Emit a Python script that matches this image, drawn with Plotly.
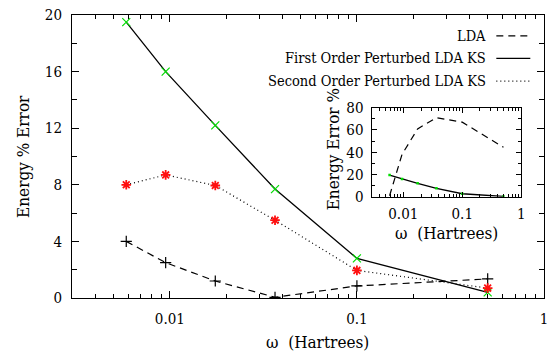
import numpy as np
import plotly.graph_objects as go

# Frequencies (Hartrees) and energy errors (%)
omega = [0.00585, 0.0095, 0.0175, 0.0365, 0.1, 0.5]
lda_err = [4.0, 2.5, 1.2, 0.05, 0.85, 1.35]
first_order_err = [19.5, 16.0, 12.2, 7.7, 2.8, 0.4]
second_order_err = [8.0, 8.7, 7.95, 5.5, 1.95, 0.7]
inset_lda_err = [1.0, 38.0, 61.0, 71.0, 67.0, 44.5]

legend_labels = ["LDA", "First Order Perturbed LDA KS", "Second Order Perturbed LDA KS"]
x_tick_vals = [0.01, 0.1, 1]
x_tick_text = ["0.01", "0.1", "1"]

FONT = "DejaVu Serif Condensed, DejaVu Serif"
GREEN = "#00dd00"
RED = "#ff1010"

minor_log = [m * 10.0 ** e for e in (-3, -2, -1) for m in range(2, 10) if m * 10.0 ** e >= 0.003]

fig = go.Figure()

# main panel
fig.add_trace(go.Scatter(
    x=omega, y=lda_err, mode="lines+markers",
    line=dict(color="black", width=1.2, dash="7px,5px"),
    marker=dict(symbol="cross-thin-open", size=8, color="black", line=dict(width=1.2)),
))
fig.add_trace(go.Scatter(
    x=omega, y=first_order_err, mode="lines+markers",
    line=dict(color="black", width=1.3),
    marker=dict(symbol="x-thin-open", size=8, color=GREEN, line=dict(width=1.2)),
))
fig.add_trace(go.Scatter(
    x=omega, y=second_order_err, mode="lines+markers",
    line=dict(color="black", width=1.2, dash="1px,3px"),
    marker=dict(symbol="asterisk-open", size=8, color=RED, line=dict(width=1.8)),
))

# inset panel
fig.add_trace(go.Scatter(
    x=omega, y=inset_lda_err, mode="lines", xaxis="x2", yaxis="y2",
    line=dict(color="black", width=1.2, dash="7px,5px"),
))
fig.add_trace(go.Scatter(
    x=omega, y=first_order_err, mode="lines+markers", xaxis="x2", yaxis="y2",
    line=dict(color="black", width=1.3),
    marker=dict(symbol="square", size=2.5, color=GREEN, line=dict(width=0)),
))

axis_common = dict(
    showgrid=False, zeroline=False, showline=True, linecolor="black", linewidth=1,
    mirror="allticks", ticks="inside", tickcolor="black",
    tickfont=dict(family=FONT, size=15, color="black"),
)

fig.update_layout(
    width=554, height=354,
    margin=dict(l=72, r=6, t=14, b=56),
    paper_bgcolor="white", plot_bgcolor="white",
    showlegend=False,
    font=dict(family=FONT, color="black"),
    xaxis=dict(
        type="log", range=[np.log10(0.003), 0],
        tickvals=x_tick_vals, ticktext=x_tick_text, ticklen=7,
        ticklabelstandoff=7,
        minor=dict(tickvals=minor_log, ticks="inside", ticklen=4, tickcolor="black"),
        **axis_common,
    ),
    yaxis=dict(
        range=[0, 20], tick0=0, dtick=4, ticklen=7,
        ticklabelstandoff=6,
        minor=dict(dtick=2, ticks="inside", ticklen=5, tickcolor="black"),
        **axis_common,
    ),
    xaxis2=dict(
        type="log", range=[np.log10(0.003), 0], domain=[0.6366, 0.9517], anchor="y2",
        tickvals=x_tick_vals, ticktext=x_tick_text, ticklen=5,
        ticklabelstandoff=3,
        minor=dict(tickvals=minor_log, ticks="inside", ticklen=3, tickcolor="black"),
        **axis_common,
    ),
    yaxis2=dict(
        range=[0, 80], tick0=0, dtick=20, domain=[0.3574, 0.6725], anchor="x2",
        ticklen=5, ticklabelstandoff=5,
        minor=dict(dtick=10, ticks="inside", ticklen=3, tickcolor="black"),
        **axis_common,
    ),
)

# axis titles
titles = [
    dict(text="Energy % Error", x=-0.105, y=0.5, textangle=-90, size=17),
    dict(text="ω  (Hartrees)", x=0.521, y=-0.157, textangle=0, size=17),
    dict(text="Energy Error %", x=0.5525, y=0.5246, textangle=-90, size=17),
    dict(text="ω  (Hartrees)", x=0.794, y=0.228, textangle=0, size=17),
]
for t in titles:
    fig.add_annotation(
        text=t["text"], x=t["x"], y=t["y"], xref="paper", yref="paper",
        textangle=t["textangle"], showarrow=False, xanchor="center", yanchor="middle",
        font=dict(family=FONT, size=t["size"], color="black"),
    )

# key: text right-aligned, line sample to the right
key_rows = [0.926, 0.847, 0.766]
key_dash = ["7px,5px", "solid", "1px,3px"]
for label, ypos, dash in zip(legend_labels, key_rows, key_dash):
    fig.add_annotation(
        text=label, x=0.881, y=ypos, xref="paper", yref="paper",
        showarrow=False, xanchor="right", yanchor="middle",
        font=dict(family=FONT, size=14.5, color="black"),
    )
    fig.add_shape(
        type="line", xref="paper", yref="paper",
        x0=0.899, x1=0.971, y0=ypos, y1=ypos,
        line=dict(color="black", width=1.2, dash=dash),
    )

fig.write_html("out.html")
